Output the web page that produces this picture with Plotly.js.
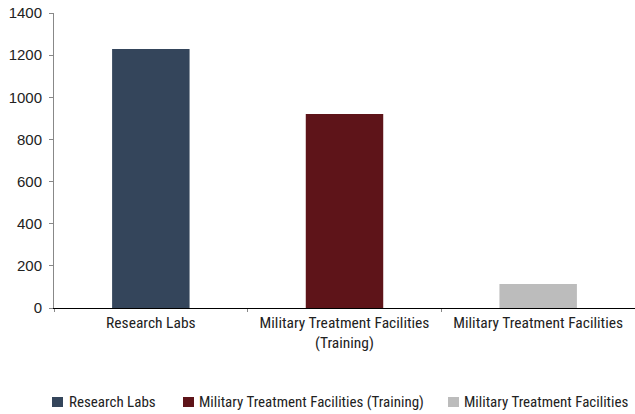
<!DOCTYPE html>
<html>
<head>
<meta charset="utf-8">
<script src="https://cdn.plot.ly/plotly-3.0.1.min.js"></script>
<style>html,body{margin:0;padding:0;background:#fff;}#chart{width:635px;height:414px;}</style>
</head>
<body>
<div id="chart"></div>
<script>
const categories = ["Research Labs", "Military Treatment Facilities<br>(Training)", "Military Treatment Facilities"];
const seriesNames = ["Research Labs", "Military Treatment Facilities (Training)", "Military Treatment Facilities"];
const values = [1229, 921, 114];
const colors = ["#34455b", "#5e1419", "#bcbcbc"];
const yTicks = [0, 200, 400, 600, 800, 1000, 1200, 1400];

const condensed = "'Liberation Sans Narrow', 'Arial Narrow', 'Roboto Condensed', sans-serif";
const traces = categories.map((c, i) => ({
  type: 'bar',
  x: [c],
  y: [values[i]],
  name: seriesNames[i],
  width: 0.4,
  marker: {color: colors[i]},
  hoverinfo: 'x+y'
}));

// custom legend (pixel layout converted to paper coords)
const W = 635, H = 414, mL = 54, mR = 0, mT = 13, mB = 106;
const pw = W - mL - mR, ph = H - mT - mB;
const px = x => (x - mL) / pw;
const py = y => (H - mB - y) / ph;
const legendSquareX = [52, 183, 448];
const legendTextX = [67, 197, 462];
const shapes = [], annotations = [];
seriesNames.forEach((n, i) => {
  shapes.push({type: 'rect', xref: 'paper', yref: 'paper',
    x0: px(legendSquareX[i]), x1: px(legendSquareX[i] + 11),
    y0: py(407), y1: py(397),
    fillcolor: colors[i], line: {width: 0}});
  annotations.push({xref: 'paper', yref: 'paper', x: px(legendTextX[i]), y: py(402),
    xanchor: 'left', yanchor: 'middle', showarrow: false, text: n,
    font: {family: condensed, size: 15, color: '#222'}});
});

const layout = {
  width: W, height: H,
  margin: {l: mL, r: mR, t: mT, b: mB, autoexpand: false},
  paper_bgcolor: '#fff', plot_bgcolor: '#fff',
  barmode: 'overlay',
  showlegend: false,
  shapes: shapes,
  annotations: annotations,
  xaxis: {
    type: 'category',
    showline: true, linecolor: '#000', linewidth: 1,
    ticks: 'outside', tickson: 'boundaries', ticklen: 3, tickcolor: '#888',
    showgrid: false, zeroline: false,
    tickfont: {family: condensed, size: 15.5, color: '#222'},
    range: [-0.5, 2.5],
    automargin: false
  },
  yaxis: {
    range: [0, 1400],
    tickvals: yTicks,
    ticktext: yTicks.map(String),
    showline: true, linecolor: '#888', linewidth: 1,
    ticks: 'outside', ticklen: 4, tickcolor: '#888',
    showgrid: false, zeroline: false,
    tickfont: {family: "'Liberation Sans', Arial, sans-serif", size: 15, color: '#222'},
    ticklabelstandoff: 4,
    automargin: false
  }
};

Plotly.newPlot('chart', traces, layout, {displayModeBar: false, staticPlot: true});
</script>
</body>
</html>
